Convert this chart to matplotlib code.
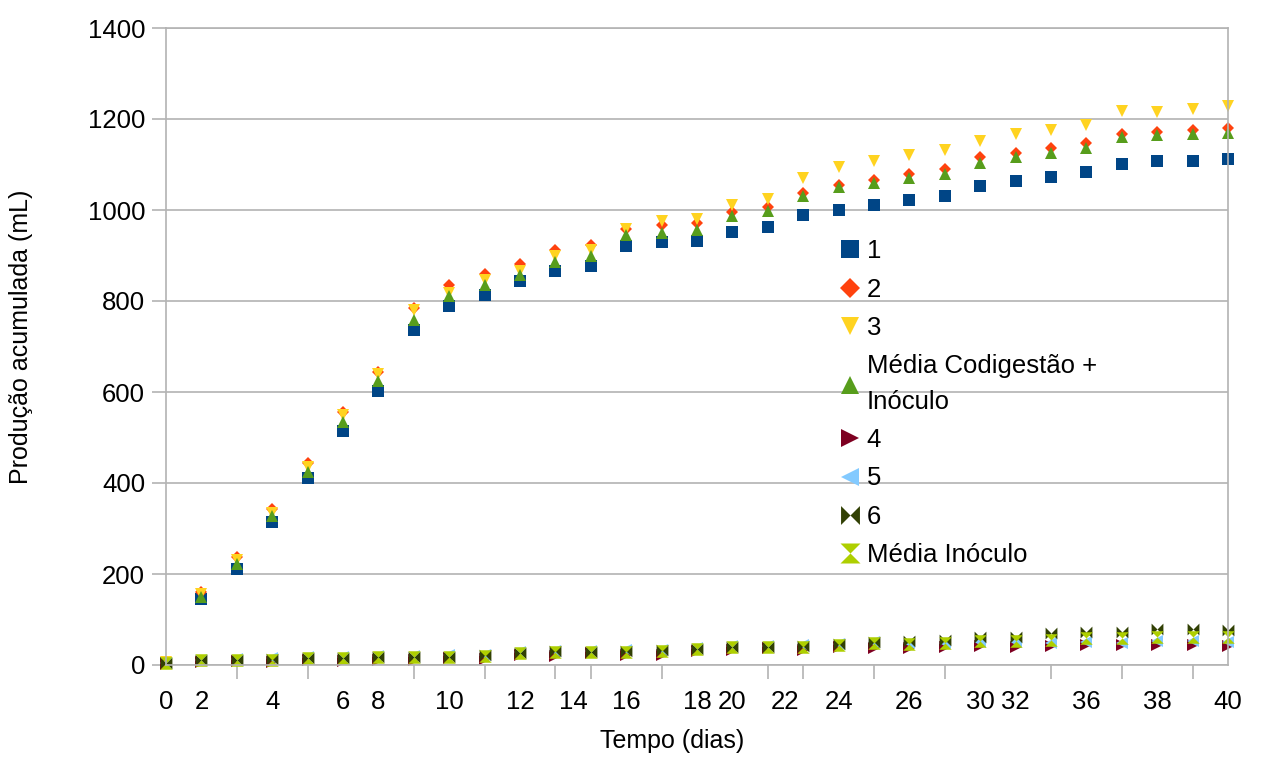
import numpy as np
import matplotlib.pyplot as plt
from matplotlib.path import Path

plt.rcParams['font.family'] = ['Liberation Sans', 'DejaVu Sans']

# categorias do eixo x (uma por medição)
categorias = np.arange(31)

# rótulos do eixo x tal como aparecem (posição em categorias)
rotulos_x = ['0', '2', '4', '6', '8', '10', '12', '14', '16', '18', '20',
             '22', '24', '26', '30', '32', '36', '38', '40']
pos_rotulos_x = [0, 1, 3, 5, 6, 8, 10, 11.5, 13, 15, 16,
                 17.5, 19, 21, 23, 24, 26, 28, 30]

# codigestão + inóculo
s1 = [5, 145, 210, 314, 410, 515, 603, 737, 788, 814, 843, 865, 878, 920, 929, 931,
      951, 962, 990, 1001, 1010, 1021, 1030, 1052, 1063, 1072, 1083, 1102, 1107, 1107, 1112]
s2 = [6, 160, 238, 342, 445, 557, 645, 785, 836, 860, 882, 911, 922, 959, 967, 972,
      995, 1006, 1037, 1055, 1066, 1080, 1090, 1116, 1125, 1136, 1147, 1167, 1172, 1175, 1181]
s3 = [6, 155, 230, 335, 435, 550, 640, 781, 818, 847, 865, 898, 913, 959, 975, 981,
      1012, 1025, 1070, 1094, 1107, 1121, 1132, 1152, 1167, 1176, 1187, 1218, 1216, 1221, 1229]
media_cod = [6, 150, 222, 328, 425, 535, 625, 759, 810, 836, 858, 885, 898, 946, 950, 957,
             986, 997, 1030, 1050, 1059, 1070, 1079, 1103, 1116, 1125, 1136, 1160, 1165, 1167, 1170]

# só inóculo
s4 = [2, 6, 9, 6, 12, 8, 10, 10, 15, 14, 22, 20, 26, 22, 22, 30,
      34, 38, 33, 40, 38, 38, 40, 42, 40, 42, 45, 45, 44, 44, 42]
s5 = [5, 12, 13, 15, 17, 18, 20, 20, 21, 22, 28, 30, 31, 32, 34, 37,
      42, 42, 43, 46, 50, 48, 48, 50, 50, 48, 50, 48, 52, 52, 50]
s6 = [5, 11, 11, 13, 15, 16, 18, 18, 18, 22, 26, 30, 29, 30, 32, 36,
      40, 40, 42, 46, 50, 52, 56, 62, 62, 70, 72, 72, 80, 80, 77]
media_ino = [4, 10, 11, 12, 15, 15, 17, 17, 18, 20, 26, 28, 29, 29, 31, 35,
             39, 40, 40, 44, 48, 46, 49, 53, 53, 56, 59, 59, 61, 61, 61]

# marcadores em laço e ampulheta (como no LibreOffice)
laco = Path([(-1, 1), (-1, -1), (0, 0), (1, -1), (1, 1), (0, 0), (-1, 1)])
ampulheta = Path([(-1, 1), (1, 1), (0, 0), (1, -1), (-1, -1), (0, 0), (-1, 1)])

series = [
    (s1, '1', 's', '#004586', 8),
    (s2, '2', 'D', '#ff420e', 6.5),
    (s3, '3', 'v', '#ffd320', 8.5),
    (media_cod, 'Média Codigestão +\nInóculo', '^', '#579d1c', 8.5),
    (s4, '4', '>', '#7e0021', 8.5),
    (s5, '5', '<', '#83caff', 8.5),
    (s6, '6', laco, '#314004', 8.5),
    (media_ino, 'Média Inóculo', ampulheta, '#aecf00', 9),
]

fig = plt.figure(figsize=(12.62, 7.58), dpi=100)
ax = fig.add_axes([166 / 1262, 1 - 665 / 758, (1228 - 166) / 1262, (665 - 28) / 758])

for valores, nome, marc, cor, tam in series:
    ax.plot(categorias, valores, linestyle='none', marker=marc, markersize=tam,
            color=cor, markeredgewidth=0, label=nome, clip_on=False)

cinza = '#b3b3b3'
ax.set_xlim(0, 30)
ax.set_ylim(0, 1400)
ax.set_yticks(np.arange(0, 1401, 200))
ax.yaxis.grid(True, color=cinza, linewidth=1.2)
ax.set_axisbelow(True)
for sp in ax.spines.values():
    sp.set_color(cinza)
    sp.set_linewidth(1.2)

ax.set_xticks(pos_rotulos_x, rotulos_x)
ax.set_xticks(categorias, minor=True)
ax.tick_params(axis='x', which='major', length=0, pad=18, labelsize=18.5)
ax.tick_params(axis='x', which='minor', length=10, width=1.2, color=cinza)
ax.tick_params(axis='y', length=10, width=1.2, color=cinza, pad=5, labelsize=18.5)

ax.set_xlabel('Tempo (dias)', fontsize=18)
ax.xaxis.set_label_coords(0.4765, -0.1)
ax.set_ylabel('Produção acumulada (mL)', fontsize=18)
ax.yaxis.set_label_coords(-0.125, 0.515)

leg = ax.legend(loc='upper left', bbox_to_anchor=(0.6345, 0.668), frameon=False,
                fontsize=18.5, markerscale=1.6, handlelength=0.8, handletextpad=0.25,
                labelspacing=0.55, borderaxespad=0, borderpad=0)
for t in leg.get_texts():
    t.set_linespacing(1.65)

fig.savefig('out.png', dpi=100)
